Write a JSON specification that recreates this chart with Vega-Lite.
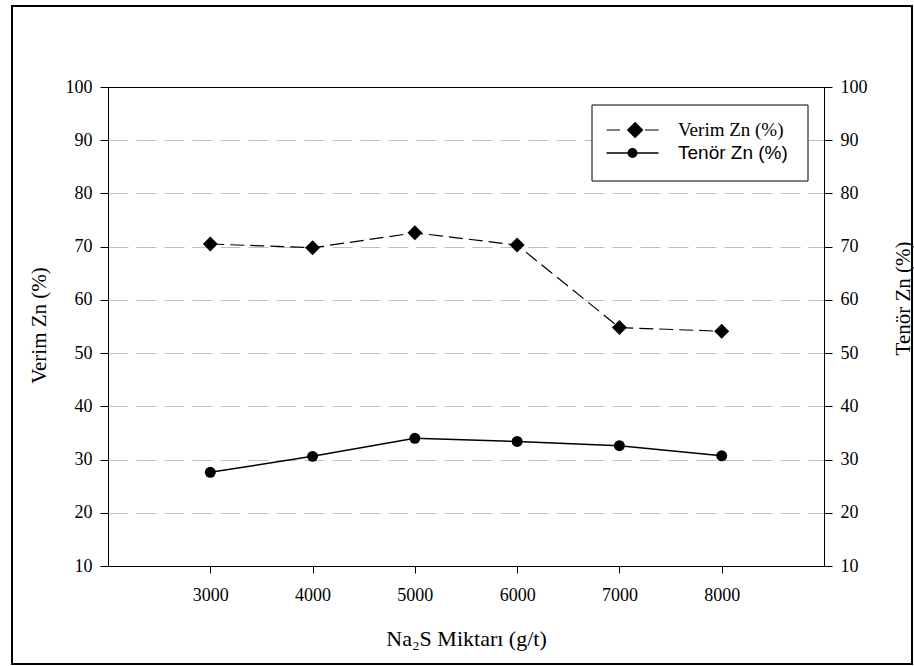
{
  "$schema": "https://vega.github.io/schema/vega-lite/v6.json",
  "width": 716,
  "height": 479,
  "autosize": {"type": "none"},
  "padding": {"left": 108, "top": 87, "right": 90, "bottom": 100},
  "background": "white",
  "config": {
    "view": {"stroke": "black", "strokeWidth": 1},
    "font": "Liberation Serif"
  },
  "data": {
    "values": [
      {"na2s": 3000, "series": "Verim Zn (%)", "value": 70.5},
      {"na2s": 4000, "series": "Verim Zn (%)", "value": 69.8},
      {"na2s": 5000, "series": "Verim Zn (%)", "value": 72.6},
      {"na2s": 6000, "series": "Verim Zn (%)", "value": 70.3},
      {"na2s": 7000, "series": "Verim Zn (%)", "value": 54.8},
      {"na2s": 8000, "series": "Verim Zn (%)", "value": 54.1},
      {"na2s": 3000, "series": "Tenör Zn (%)", "value": 27.6},
      {"na2s": 4000, "series": "Tenör Zn (%)", "value": 30.6},
      {"na2s": 5000, "series": "Tenör Zn (%)", "value": 34.0},
      {"na2s": 6000, "series": "Tenör Zn (%)", "value": 33.4},
      {"na2s": 7000, "series": "Tenör Zn (%)", "value": 32.6},
      {"na2s": 8000, "series": "Tenör Zn (%)", "value": 30.7}
    ]
  },
  "encoding": {
    "x": {
      "field": "na2s",
      "type": "quantitative",
      "scale": {"domain": [2000, 9000], "nice": false, "zero": false},
      "axis": {
        "values": [3000, 4000, 5000, 6000, 7000, 8000],
        "format": "d",
        "grid": false,
        "tickSize": 7,
        "tickColor": "black",
        "domainColor": "black",
        "labelPadding": 13,
        "labelFont": "Liberation Serif",
        "labelFontSize": 18,
        "labelColor": "black",
        "title": "Na₂S Miktarı (g/t)",
        "titleFont": "Liberation Serif",
        "titleFontSize": 22,
        "titleFontWeight": "normal",
        "titleColor": "black",
        "titleY": 72,
        "titleBaseline": "middle"
      }
    }
  },
  "layer": [
    {
      "data": {"values": [{"frame": 1}]},
      "mark": {"type": "rect", "fill": null, "fillOpacity": 0, "stroke": "black", "strokeWidth": 2},
      "encoding": {
        "x": {"value": -96},
        "x2": {"value": 804},
        "y": {"value": -81},
        "y2": {"value": 577}
      }
    },
    {
      "data": {"values": [{"box": 1}]},
      "mark": {"type": "rect", "fill": "white", "stroke": "black", "strokeWidth": 1},
      "encoding": {
        "x": {"value": 484},
        "x2": {"value": 700},
        "y": {"value": 18},
        "y2": {"value": 94}
      }
    },
    {
      "transform": [{"filter": "datum.series === 'Verim Zn (%)'"}],
      "encoding": {
        "y": {
          "field": "value",
          "type": "quantitative",
          "scale": {"domain": [10, 100], "nice": false, "zero": false},
          "axis": {
            "orient": "left",
            "values": [10, 20, 30, 40, 50, 60, 70, 80, 90, 100],
            "grid": true,
            "gridColor": "#c0c0c0",
            "gridDash": [20, 8],
            "gridOpacity": {"condition": {"test": "datum.value == 10 || datum.value == 100", "value": 0}, "value": 1},
            "tickSize": 8,
            "tickColor": "black",
            "domainColor": "black",
            "labelPadding": 8,
            "labelFont": "Liberation Serif",
            "labelFontSize": 18,
            "labelColor": "black",
            "title": "Verim Zn (%)",
            "titleFont": "Liberation Serif",
            "titleFontSize": 21,
            "titleFontWeight": "normal",
            "titleColor": "black",
            "titleAngle": 270,
            "titleX": -69,
            "titleY": 238,
            "titleAlign": "center",
            "titleBaseline": "middle"
          }
        }
      },
      "layer": [
        {"mark": {"type": "line", "color": "black", "strokeWidth": 1.2, "strokeDash": [14, 6]}},
        {
          "mark": {"type": "point", "filled": true, "color": "black", "size": 225, "shape": "diamond"},
          "encoding": {
            "opacity": {
              "field": "series",
              "type": "nominal",
              "scale": {"domain": ["Verim Zn (%)"], "range": [1]},
              "legend": {
                "orient": "none",
                "legendX": 484,
                "legendY": 18,
                "direction": "vertical",
                "title": null,
                "padding": 14,
                "symbolType": "M-1,-0.022H-0.48V0.022H-1ZM0.1,-0.32L0.42,0L0.1,0.32L-0.22,0ZM0.48,-0.022H1V0.022H0.48Z",
                "symbolSize": 2704,
                "clipHeight": 22,
                "labelOffset": 19,
                "labelFontSize": 19,
                "labelColor": "black",
                "labelFont": "Liberation Serif",
                "symbolFillColor": "black",
                "symbolStrokeColor": "black",
                "symbolStrokeWidth": 0.3,
                "symbolOpacity": 1
              }
            }
          }
        }
      ]
    },
    {
      "transform": [{"filter": "datum.series === 'Tenör Zn (%)'"}],
      "encoding": {
        "y": {
          "field": "value",
          "type": "quantitative",
          "scale": {"domain": [10, 100], "nice": false, "zero": false},
          "axis": {
            "orient": "right",
            "values": [10, 20, 30, 40, 50, 60, 70, 80, 90, 100],
            "grid": false,
            "tickSize": 8,
            "tickColor": "black",
            "domainColor": "black",
            "labelPadding": 8,
            "labelFont": "Liberation Serif",
            "labelFontSize": 18,
            "labelColor": "black",
            "title": "Tenör Zn (%)",
            "titleFont": "Liberation Serif",
            "titleFontSize": 21,
            "titleFontWeight": "normal",
            "titleColor": "black",
            "titleAngle": 270,
            "titleX": 79,
            "titleY": 211,
            "titleAlign": "center",
            "titleBaseline": "middle"
          }
        }
      },
      "layer": [
        {"mark": {"type": "line", "color": "black", "strokeWidth": 1.5}},
        {
          "mark": {"type": "point", "filled": true, "color": "black", "size": 120, "shape": "circle"},
          "encoding": {
            "opacity": {
              "field": "series",
              "type": "nominal",
              "scale": {"domain": ["Tenör Zn (%)"], "range": [1]},
              "legend": {
                "orient": "none",
                "legendX": 484,
                "legendY": 41,
                "direction": "vertical",
                "title": null,
                "padding": 14,
                "symbolType": "M-1,-0.025H1V0.025H-1ZM0.19,0A0.19,0.19,0,1,1,-0.19,0A0.19,0.19,0,1,1,0.19,0Z",
                "symbolSize": 2704,
                "clipHeight": 22,
                "labelOffset": 19,
                "labelFontSize": 19,
                "labelColor": "black",
                "labelFont": "Liberation Sans",
                "symbolFillColor": "black",
                "symbolStrokeColor": "black",
                "symbolStrokeWidth": 0.3,
                "symbolOpacity": 1
              }
            }
          }
        }
      ]
    }
  ],
  "resolve": {
    "scale": {"y": "independent", "opacity": "independent"},
    "legend": {"opacity": "independent"}
  }
}
